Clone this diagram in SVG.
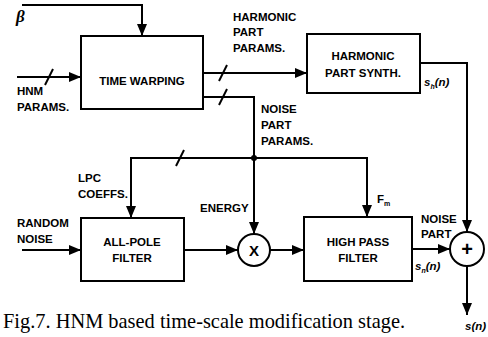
<svg xmlns="http://www.w3.org/2000/svg" width="488" height="337" viewBox="0 0 488 337">
<style>
.ln{fill:none;stroke:#000;stroke-width:2}
.bx{fill:#fff;stroke:#000;stroke-width:2}
.t{font-family:"Liberation Sans",Arial,sans-serif;font-weight:bold;font-size:11.5px;fill:#000}
.c{text-anchor:middle}
.it{font-style:italic}
.cap{font-family:"Liberation Serif","Times New Roman",serif;font-size:20.4px;fill:#000}
</style>
<defs>
<marker id="ah" markerUnits="userSpaceOnUse" markerWidth="12" markerHeight="10" refX="12" refY="5" orient="auto">
<path d="M0,0 L12,5 L0,10 z" fill="#000"/>
</marker>
</defs>
<g id="connectors">
<polyline class="ln" points="22,5 142,5 142,36" marker-end="url(#ah)"/>
<line class="ln" x1="17" y1="77" x2="81" y2="77" marker-end="url(#ah)"/>
<line class="ln" x1="45" y1="85" x2="53" y2="69"/>
<line class="ln" x1="203" y1="73" x2="307" y2="73" marker-end="url(#ah)"/>
<line class="ln" x1="219" y1="81" x2="227" y2="65"/>
<polyline class="ln" points="203,97 254,97 254,234" marker-end="url(#ah)"/>
<line class="ln" x1="219" y1="105" x2="227" y2="89"/>
<polyline class="ln" points="254,158 131,158 131,218" marker-end="url(#ah)"/>
<line class="ln" x1="176" y1="166" x2="184" y2="150"/>
<polyline class="ln" points="254,158 367,158 367,217" marker-end="url(#ah)"/>
<circle cx="254" cy="158" r="3" fill="#000"/>
<polyline class="ln" points="420,63 467,63 467,232" marker-end="url(#ah)"/>
<line class="ln" x1="22" y1="250" x2="81" y2="250" marker-end="url(#ah)"/>
<line class="ln" x1="184" y1="250" x2="238" y2="250" marker-end="url(#ah)"/>
<line class="ln" x1="270" y1="250" x2="304" y2="250" marker-end="url(#ah)"/>
<line class="ln" x1="412" y1="249" x2="450" y2="249" marker-end="url(#ah)"/>
<line class="ln" x1="467" y1="266" x2="467" y2="315" marker-end="url(#ah)"/>
</g>
<g id="time-warping">
<rect class="bx" x="81" y="36" width="122" height="73"/>
<text class="t c" x="142" y="85">TIME WARPING</text>
</g>
<g id="harmonic-synth">
<rect class="bx" x="307" y="34" width="113" height="59"/>
<text class="t c" x="363" y="60">HARMONIC</text>
<text class="t c" x="363" y="77">PART SYNTH.</text>
</g>
<g id="all-pole">
<rect class="bx" x="81" y="218" width="103" height="63"/>
<text class="t c" x="132" y="246">ALL-POLE</text>
<text class="t c" x="132" y="262">FILTER</text>
</g>
<g id="multiplier">
<circle class="bx" cx="254" cy="250" r="16"/>
<text class="t c" x="254" y="255.5" style="font-size:15px">X</text>
</g>
<g id="high-pass">
<rect class="bx" x="304" y="217" width="108" height="64"/>
<text class="t c" x="358" y="246">HIGH PASS</text>
<text class="t c" x="358" y="262">FILTER</text>
</g>
<g id="adder">
<circle class="bx" cx="467" cy="249" r="17"/>
<text class="t c" x="467" y="256" style="font-size:20px">+</text>
</g>
<g id="labels">
<text x="16" y="22" font-family="Liberation Serif,serif" font-style="italic" font-weight="bold" font-size="17">β</text>
<text class="t" x="17" y="95">HNM</text>
<text class="t" x="17" y="111">PARAMS.</text>
<text class="t" x="233" y="21">HARMONIC</text>
<text class="t" x="233" y="36">PART</text>
<text class="t" x="233" y="52">PARAMS.</text>
<text class="t" x="261" y="113">NOISE</text>
<text class="t" x="261" y="129">PART</text>
<text class="t" x="261" y="145">PARAMS.</text>
<text class="t" x="78" y="182">LPC</text>
<text class="t" x="78" y="198">COEFFS.</text>
<text class="t" x="200" y="212">ENERGY</text>
<text class="t" x="17" y="227">RANDOM</text>
<text class="t" x="17" y="243">NOISE</text>
<text class="t" x="377" y="203">F<tspan font-size="7" dy="3">m</tspan></text>
<text class="t" x="421" y="223">NOISE</text>
<text class="t" x="421" y="238">PART</text>
<text class="t it" x="424" y="86">s<tspan font-size="7" dy="3">h</tspan><tspan dy="-3">(n)</tspan></text>
<text class="t it" x="415" y="270">s<tspan font-size="7" dy="3">n</tspan><tspan dy="-3">(n)</tspan></text>
<text class="t it" x="465" y="330">s(n)</text>
<text class="cap" x="3" y="328">Fig.7. HNM based time-scale modification stage.</text>
</g>
</svg>
